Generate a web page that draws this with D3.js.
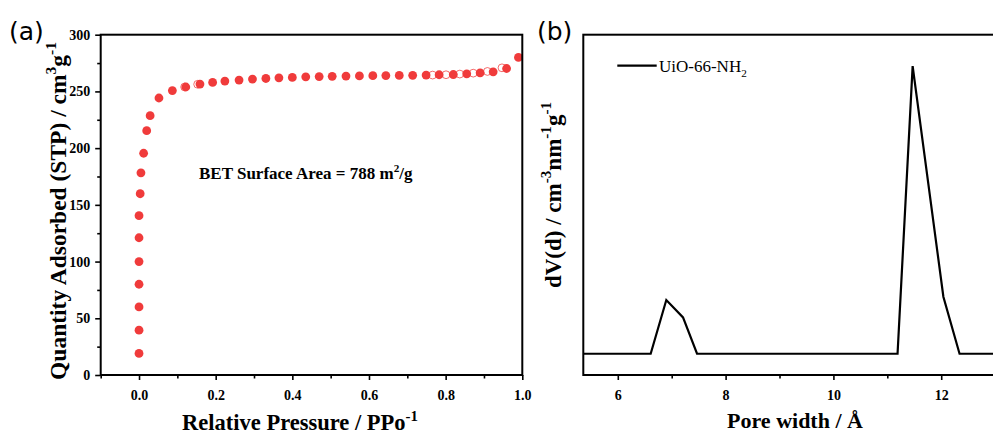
<!DOCTYPE html>
<html><head><meta charset="utf-8">
<script src="https://cdn.jsdelivr.net/npm/d3@7"></script>
<style>html,body{margin:0;padding:0;background:#fff;overflow:hidden}</style>
</head><body>
<svg id="fig" width="993" height="434"></svg>
<script>
// (a) N2 adsorption/desorption isotherm
const adsP = [0,0,0,0,0,0,0,0.003,0.005,0.012,0.020,0.029,0.052,0.087,0.122,0.159,0.192,0.224,0.261,0.296,0.331,0.365,0.400,0.435,0.470,0.504,0.540,0.575,0.610,0.644,0.679,0.714,0.749,0.783,0.820,0.855,0.890,0.924,0.959,0.990];
const adsQ = [19,39.5,60,80,100,121,140.5,159.8,178.2,195.5,215.4,228.6,244.2,250.7,253.9,256.5,257.9,259.1,260,260.9,261.4,262,262.3,262.9,263.1,263.3,263.5,263.7,263.9,264.0,264.1,264.2,264.4,264.7,264.9,265.5,266.4,267.3,270.2,280];
const desP = [0.947,0.909,0.872,0.837,0.801,0.766,0.153,0.119];
const desQ = [270.8,267.6,266.1,265.3,264.7,264.4,256.3,253.9];
const isoXTicks = [0,0.2,0.4,0.6,0.8,1.0];
const isoXMinor = [-0.1,0.1,0.3,0.5,0.7,0.9];
const isoYTicks = [0,50,100,150,200,250,300];
const isoYMinor = [25,75,125,175,225,275];

// (b) pore size distribution
const poreWidth = [5.36,6.61,6.90,7.21,7.47,11.19,11.47,12.04,12.34,13.2];
const poreDv = [0,0,0.0505,0.0342,0,0,0.2705,0.0536,0,0];
const poreXTicks = [6,8,10,12];
const poreXMinor = [7,9,11,13];

const svg = d3.select("#fig");
const SERIF = "'Liberation Serif','Times New Roman',serif";
const SANS = "'DejaVu Sans','Noto Sans',sans-serif";
const RED = "#f03b3b";

// write a label made of plain / superscript / subscript runs
function rich(textSel, parts, size) {
  let shift = 0;
  parts.forEach(p => {
    const target = p.sup ? -size * 0.42 : p.sub ? size * 0.28 : 0;
    textSel.append("tspan")
      .attr("dy", target - shift)
      .attr("font-size", (p.sup || p.sub) ? size * 0.66 : size)
      .text(p.t);
    shift = target;
  });
}

function styleAxis(g) {
  g.select(".domain").remove();
  g.selectAll(".tick line").attr("stroke", "#000").attr("stroke-width", 1.6);
  g.selectAll("text").attr("font-family", SERIF).attr("font-weight", "bold")
    .attr("font-size", 14).attr("fill", "#000");
}

// ---------- panel (a) ----------
const ax = {l: 100.7, r: 522.3, t: 34.7, b: 375};
const xa = d3.scaleLinear().domain([-0.1, 1.0]).range([ax.l, ax.r]);
const ya = d3.scaleLinear().domain([0, 300]).range([ax.b, ax.t]);

const ga = svg.append("g");
ga.append("g").attr("transform", `translate(0,${ax.b})`)
  .call(d3.axisBottom(xa).tickValues(isoXTicks).tickSize(5).tickPadding(10).tickFormat(d3.format(".1f")))
  .call(styleAxis);
ga.append("g").attr("transform", `translate(0,${ax.b})`)
  .call(d3.axisBottom(xa).tickValues(isoXMinor).tickSize(3.5).tickFormat(""))
  .call(styleAxis);
ga.append("g").attr("transform", `translate(${ax.l},0)`)
  .call(d3.axisLeft(ya).tickValues(isoYTicks).tickSize(5.5).tickPadding(5).tickFormat(d3.format("d")))
  .call(styleAxis);
ga.append("g").attr("transform", `translate(${ax.l},0)`)
  .call(d3.axisLeft(ya).tickValues(isoYMinor).tickSize(3.5).tickFormat(""))
  .call(styleAxis);

// desorption branch (open), then adsorption branch (filled)
ga.append("g").selectAll("circle").data(desP).join("circle")
  .attr("cx", d => xa(d)).attr("cy", (d, i) => ya(desQ[i])).attr("r", 3.9)
  .attr("fill", "#fff").attr("stroke", RED).attr("stroke-opacity", 0.75).attr("stroke-width", 1);
ga.append("g").selectAll("circle").data(adsP).join("circle")
  .attr("cx", d => xa(d)).attr("cy", (d, i) => ya(adsQ[i])).attr("r", 4.4)
  .attr("fill", RED);

ga.append("rect").attr("x", ax.l).attr("y", ax.t).attr("width", ax.r - ax.l).attr("height", ax.b - ax.t)
  .attr("fill", "none").attr("stroke", "#000").attr("stroke-width", 2);

rich(ga.append("text").attr("x", 199).attr("y", 179).attr("font-family", SERIF).attr("font-weight", "bold"),
  [{t: "BET Surface Area = 788 m"}, {t: "2", sup: true}, {t: "/g"}], 17);

rich(ga.append("text").attr("x", 300).attr("y", 430).attr("text-anchor", "middle")
  .attr("font-family", SERIF).attr("font-weight", "bold"),
  [{t: "Relative Pressure / PPo"}, {t: "-1", sup: true}], 22.5);

rich(ga.append("text").attr("transform", "translate(66,211) rotate(-90)").attr("text-anchor", "middle")
  .attr("font-family", SERIF).attr("font-weight", "bold"),
  [{t: "Quantity Adsorbed (STP) / cm"}, {t: "3", sup: true}, {t: "g"}, {t: "-1", sup: true}], 23.5);

ga.append("text").attr("x", 9).attr("y", 40).attr("font-family", SANS).attr("font-size", 25).text("(a)");

// ---------- panel (b) ----------
const bx = {l: 583.3, r: 1005.9, t: 34.7, b: 375};
const xb = d3.scaleLinear().domain([5.36, 13.2]).range([bx.l, bx.r]);
const yb = d3.scaleLinear().domain([-0.02, 0.30]).range([bx.b, bx.t]);

const gb = svg.append("g");
gb.append("g").attr("transform", `translate(0,${bx.b})`)
  .call(d3.axisBottom(xb).tickValues(poreXTicks).tickSize(5).tickPadding(10).tickFormat(d3.format("d")))
  .call(styleAxis);
gb.append("g").attr("transform", `translate(0,${bx.b})`)
  .call(d3.axisBottom(xb).tickValues(poreXMinor).tickSize(3.5).tickFormat(""))
  .call(styleAxis);

gb.append("path").datum(poreWidth)
  .attr("d", d3.line().x(d => xb(d)).y((d, i) => yb(poreDv[i])))
  .attr("fill", "none").attr("stroke", "#000").attr("stroke-width", 2.2).attr("stroke-linejoin", "miter");

gb.append("rect").attr("x", bx.l).attr("y", bx.t).attr("width", bx.r - bx.l).attr("height", bx.b - bx.t)
  .attr("fill", "none").attr("stroke", "#000").attr("stroke-width", 2);

// legend
gb.append("line").attr("x1", 617.3).attr("x2", 656.7).attr("y1", 65.7).attr("y2", 65.7)
  .attr("stroke", "#000").attr("stroke-width", 2.2);
rich(gb.append("text").attr("x", 659).attr("y", 72).attr("font-family", SERIF),
  [{t: "UiO-66-NH"}, {t: "2", sub: true}], 17);

gb.append("text").attr("x", 795).attr("y", 428).attr("text-anchor", "middle")
  .attr("font-family", SERIF).attr("font-weight", "bold").attr("font-size", 22).text("Pore width / Å");

rich(gb.append("text").attr("transform", "translate(561,195) rotate(-90)").attr("text-anchor", "middle")
  .attr("font-family", SERIF).attr("font-weight", "bold"),
  [{t: "dV(d) / cm"}, {t: "-3", sup: true}, {t: "nm"}, {t: "-1", sup: true}, {t: "g"}, {t: "-1", sup: true}], 23);

gb.append("text").attr("x", 537).attr("y", 40).attr("font-family", SANS).attr("font-size", 25).text("(b)");
</script>
</body></html>
